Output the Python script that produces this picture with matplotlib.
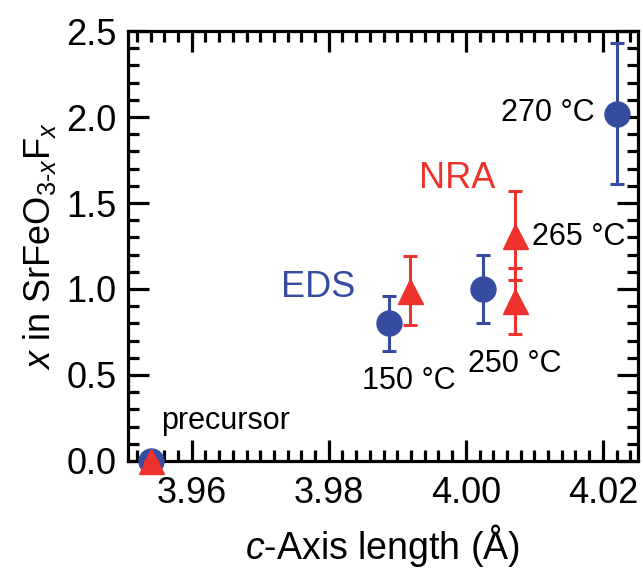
"""x in SrFeO3-xFx vs c-axis length, EDS and NRA estimates."""

import matplotlib
matplotlib.use("Agg")
import matplotlib.pyplot as plt

plt.rcParams["font.family"] = ["Liberation Sans", "DejaVu Sans"]
plt.rcParams["mathtext.fontset"] = "custom"
plt.rcParams["mathtext.rm"] = "Liberation Sans"
plt.rcParams["mathtext.it"] = "Liberation Sans:italic"

BLUE = "#354ca0"
RED = "#ee322d"

# EDS (circles)
eds_c = [3.9540, 3.9888, 4.0025, 4.0220]
eds_x = [0.0, 0.80, 1.00, 2.02]
eds_err = [0.0, 0.16, 0.20, 0.41]

# NRA (triangles)
nra_c = [3.9540, 3.9918, 4.0072, 4.0072]
nra_x = [0.0, 0.99, 0.93, 1.31]
nra_err = [0.0, 0.20, 0.19, 0.26]

# text labels: (text, c, x, ha)
labels = [
    ("precursor", 3.9556, 0.186, "left"),
    ("150 °C", 3.9848, 0.419, "left"),
    ("250 °C", 4.0003, 0.517, "left"),
    ("265 °C", 4.0096, 1.256, "left"),
    ("270 °C", 4.0188, 1.977, "right"),
]


def main() -> None:
    fig = plt.figure(figsize=(6.43, 5.68), dpi=100)
    ax = fig.add_axes([0.199, 0.1884, 0.793, 0.757])

    common = dict(linestyle="none", elinewidth=2.2, capsize=4.7, capthick=2.2,
                  clip_on=False)
    ax.errorbar(eds_c, eds_x, yerr=eds_err, fmt="o", color=BLUE,
                markersize=18, zorder=3, **common)
    ax.errorbar(nra_c, nra_x, yerr=nra_err, fmt="^", color=RED,
                markersize=18, zorder=4, **common)

    for text, c, x, ha in labels:
        ax.text(c, x, text, ha=ha, va="baseline", fontsize=22, clip_on=False)
    ax.text(3.9731, 0.953, "EDS", color=BLUE, fontsize=26, va="baseline")
    ax.text(3.9987, 1.587, "NRA", color=RED, fontsize=26, va="baseline",
            ha="center")

    ax.set_xlim(3.9507, 4.0251)
    ax.set_ylim(0, 2.5)
    ax.set_xticks([3.96, 3.98, 4.00, 4.02])
    ax.set_xticklabels(["3.96", "3.98", "4.00", "4.02"])
    ax.set_xticks([3.952 + 0.002 * i for i in range(37)], minor=True)
    ax.set_yticks([0.0, 0.5, 1.0, 1.5, 2.0, 2.5])
    ax.set_yticks([0.1 * i for i in range(26)], minor=True)

    ax.tick_params(which="both", direction="in", top=True, right=True,
                   labelsize=26, width=2.3)
    ax.tick_params(which="major", length=15, pad=8)
    ax.tick_params(axis="x", which="major", pad=11)
    ax.tick_params(which="minor", length=8)
    for s in ax.spines.values():
        s.set_linewidth(2.3)

    ax.set_xlabel(r"$c$-Axis length (Å)", fontsize=27, labelpad=8)
    ax.set_ylabel(r"$x$ in SrFeO$_{3\text{-}x}$F$_x$", fontsize=26, labelpad=6)

    fig.savefig("out.png", dpi=100)


if __name__ == "__main__":
    main()
